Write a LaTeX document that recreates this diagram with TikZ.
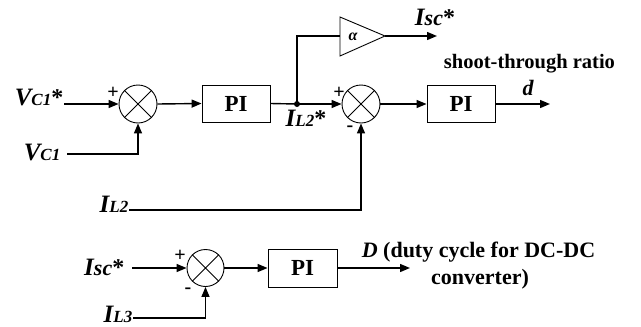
\documentclass[tikz,border=0pt]{standalone}
\usepackage{fontspec}
\setmainfont{Liberation Serif}
\usetikzlibrary{arrows.meta}
\newcommand\sigl[4]{{\fontsize{25}{25}\selectfont\bfseries\itshape #1}{\fontsize{#4}{#4}\selectfont\bfseries\itshape #2}{\fontsize{24}{24}\selectfont\bfseries #3}}
\begin{document}
\begin{tikzpicture}[x=1pt,y=-1pt,line width=1.4pt,
  sumnode/.style={circle,draw,minimum size=38pt,inner sep=0pt,line width=0.9pt},
  pibox/.style={draw,minimum width=68pt,minimum height=37pt,inner sep=0pt,line width=0.9pt,font=\fontsize{23}{23}\selectfont\bfseries},
  arr/.style={-{Triangle[length=10pt,width=8pt]}},
  lbl/.style={inner sep=0pt},
  sgn/.style={inner sep=0pt,font=\fontsize{20}{20}\selectfont\bfseries},
  txt/.style={inner sep=0pt,font=\fontsize{22}{22}\selectfont\bfseries}]
\useasboundingbox (0,0) rectangle (641,327);

% row 1
\node[sumnode] (s1) at (138,104) {};
\draw[line width=0.8pt] (s1.north west) -- (s1.south east) (s1.north east) -- (s1.south west);
\node[pibox] (pi1) at (236,103.5) {PI};
\node[sumnode] (s2) at (361,104) {};
\draw[line width=0.8pt] (s2.north west) -- (s2.south east) (s2.north east) -- (s2.south west);
\node[pibox] (pi2) at (461,104) {PI};
\coordinate (j) at (297,104);
\coordinate (ampin) at (340,36);
\coordinate (ampout) at (385,36);
\draw[line width=0.9pt] (340,17) -- (ampout) -- (340,56) -- cycle;
\node[inner sep=0pt,font=\fontsize{16}{16}\selectfont\bfseries\itshape] (alpha) at (353,37) {α};
\coordinate (iscout) at (437,36);
\coordinate (dout) at (550,104);

\node[lbl,anchor=base east] (vcref) at (64,105) {\sigl{V}{C1}{*}{17}};
\node[lbl,anchor=base east] (vc) at (61,160) {\sigl{V}{C1}{}{17}};
\node[lbl,anchor=base east] (il2) at (129,212) {\sigl{I}{L2}{}{17}};
\node[lbl,anchor=base] (il2ref) at (306,126) {\sigl{I}{L2}{*}{17}};
\node[lbl,anchor=base] (iscref) at (435,25) {\sigl{I}{sc}{*}{22}};
\node[inner sep=0pt,anchor=base,font=\fontsize{20.5}{20.5}\selectfont\bfseries] (ratio) at (529.5,68) {shoot-through ratio};
\node[lbl,anchor=base,font=\fontsize{22}{22}\selectfont\bfseries\itshape] (dlbl) at (528,95) {d};

\node[sgn] (p1) at (113,93) {+};
\node[sgn] (p2) at (339,93) {+};
\node[sgn] (m2) at (350,129) {-};

\draw[arr] ([yshift=1pt]vcref.base east) -- (s1.west);
\draw[arr] ([xshift=6pt,yshift=6pt]vc.base east) -| (s1.south);
\draw[arr] (s1.east) -- (pi1.west);
\draw (pi1.east) -- (j);
\draw[arr] (j) -- (s2.west);
\fill (j) circle (3pt);
\draw (j) |- (ampin);
\draw[arr] (ampout) -- (iscout);
\draw[arr] ([yshift=2pt]il2.base east) -| (s2.south);
\draw[arr] (s2.east) -- (pi2.west);
\draw[arr] (pi2.east) -- (dout);

% row 3
\node[sumnode,minimum size=37pt] (s3) at (205.5,268) {};
\draw[line width=0.8pt] (s3.north west) -- (s3.south east) (s3.north east) -- (s3.south west);
\node[pibox,minimum height=38pt,minimum width=69pt] (pi3) at (302.5,268) {PI};
\coordinate (Dout) at (410,268);
\node[lbl,anchor=base east] (isc) at (125,275) {\sigl{I}{sc}{*}{22}};
\node[lbl,anchor=base east] (il3) at (133,322) {\sigl{I}{L3}{}{17}};
\node[sgn] (p3) at (180,256) {+};
\node[sgn] (m3) at (188,291) {-};
\node[txt,anchor=base] (dtxt1) at (478.5,257) {\textit{D} (duty cycle for DC-DC};
\node[txt,anchor=base] (dtxt2) at (480,284) {converter)};

\draw[arr] ([xshift=7pt,yshift=7pt]isc.base east) -- (s3.west);
\draw[arr] ([yshift=4pt]il3.base east) -| (s3.south);
\draw[arr] (s3.east) -- (pi3.west);
\draw[arr] (pi3.east) -- (Dout);
\end{tikzpicture}
\end{document}
